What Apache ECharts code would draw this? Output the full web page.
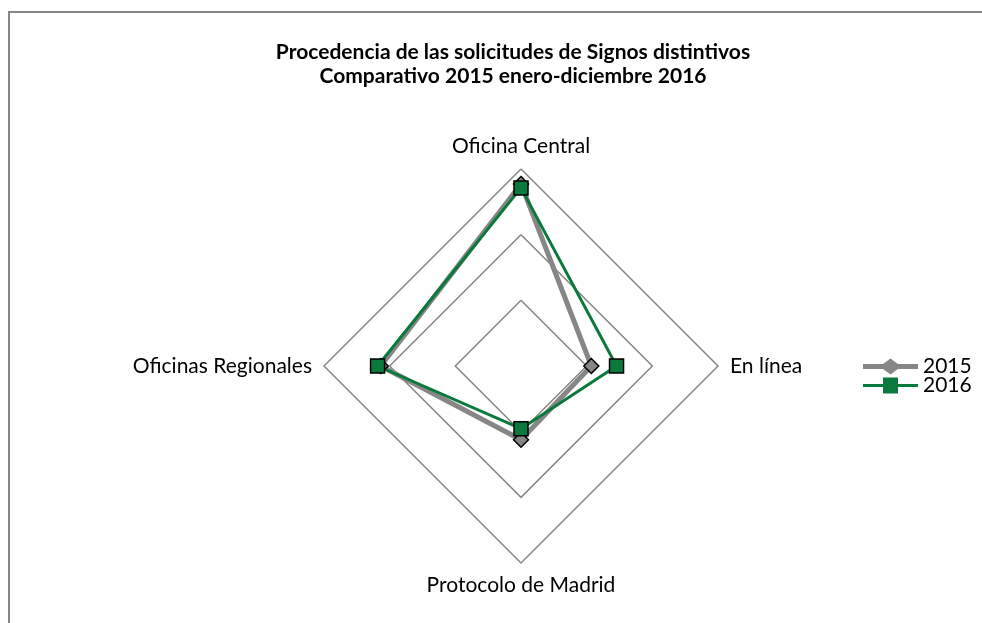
<!DOCTYPE html>
<html>
<head>
<meta charset="utf-8">
<script src="https://cdn.jsdelivr.net/npm/echarts@6/dist/echarts.min.js"></script>
<style>
html, body { margin: 0; padding: 0; background: #fff; }
#main { width: 982px; height: 623px; }
</style>
</head>
<body>
<div id="main"></div>
<script>
var myChart = echarts.init(document.getElementById('main'));

// indicadores en orden antihorario desde arriba
var indicators = ['Oficina Central', 'Oficinas Regionales', 'Protocolo de Madrid', 'En línea'];
var values2015 = [92.4, 71.2, 37.4, 35.7];
var values2016 = [90.4, 72.8, 31.8, 48.5];
var seriesNames = ['2015', '2016'];

var font = 'Lato';
var gray = '#868686';
var green = '#0a7a3c';

var legendIcons = [
    'path://M0,5.5L20,5.5L27.5,0L35,5.5L55,5.5L55,10.5L35,10.5L27.5,16L20,10.5L0,10.5Z',
    'path://M0,6.5L20,6.5L20,0L35,0L35,6.5L55,6.5L55,9.5L35,9.5L35,16L20,16L20,9.5L0,9.5Z'
];
var legendColors = [gray, green];
var legendTops = [356, 375];

// una leyenda por serie para fijar el espaciado vertical
var legends = seriesNames.map(function (n, i) {
    return {
        orient: 'vertical',
        left: 863,
        top: legendTops[i],
        padding: 0,
        itemWidth: 55,
        itemHeight: 16,
        textStyle: { fontFamily: font, fontSize: 21, color: '#000' },
        data: [{
            name: n,
            icon: legendIcons[i],
            itemStyle: { color: legendColors[i], borderWidth: 0 }
        }]
    };
});

var option = {
    animation: false,
    title: {
        text: 'Procedencia de las solicitudes de Signos distintivos\nComparativo 2015 enero-diciembre 2016',
        left: 508,
        top: 35,
        textAlign: 'center',
        textStyle: {
            fontFamily: font,
            fontSize: 21,
            fontWeight: 'bold',
            color: '#000',
            lineHeight: 24
        }
    },
    graphic: [{
        type: 'rect',
        shape: { x: 9, y: 12, width: 1000, height: 700 },
        style: { fill: 'none', stroke: gray, lineWidth: 2 },
        silent: true
    }],
    legend: legends,
    radar: {
        center: [521, 366],
        radius: 197,
        startAngle: 90,
        splitNumber: 3,
        shape: 'polygon',
        axisName: {
            color: '#000',
            fontFamily: font,
            fontSize: 21
        },
        nameGap: 12,
        splitLine: { lineStyle: { color: gray, width: 1.5 } },
        splitArea: { show: false },
        axisLine: { show: false },
        axisTick: { show: false },
        axisLabel: { show: false },
        indicator: indicators.map(function (n) {
            return { name: n, min: 0, max: 100 };
        })
    },
    series: [{
        type: 'radar',
        data: [{
            name: seriesNames[0],
            value: values2015,
            symbol: 'diamond',
            symbolSize: 15,
            lineStyle: { color: gray, width: 5 },
            itemStyle: { color: gray, borderColor: '#000', borderWidth: 1.5 }
        }, {
            name: seriesNames[1],
            value: values2016,
            symbol: 'rect',
            symbolSize: 14,
            lineStyle: { color: green, width: 3 },
            itemStyle: { color: green, borderColor: '#000', borderWidth: 1.5 }
        }]
    }]
};

myChart.setOption(option);
window.onresize = myChart.resize;
</script>
</body>
</html>
